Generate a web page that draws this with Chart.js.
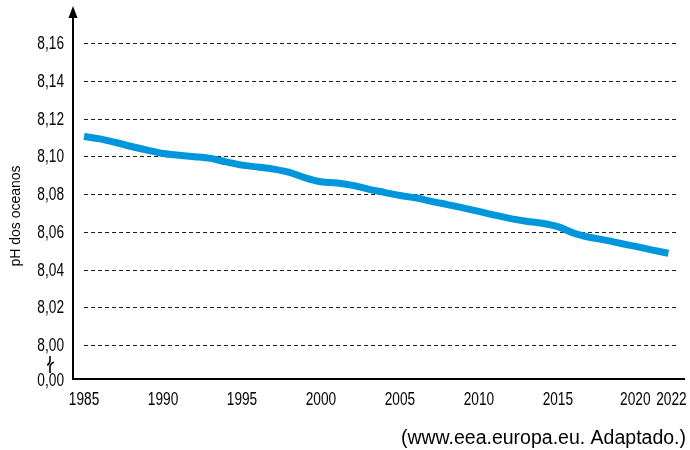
<!DOCTYPE html>
<html>
<head>
<meta charset="utf-8">
<script src="https://cdn.jsdelivr.net/npm/chart.js@4.4.1/dist/chart.umd.min.js"></script>
<style>
  body { margin: 0; background: #fff; }
  #wrap { width: 690px; height: 450px; }
</style>
</head>
<body>
<div id="wrap"><canvas id="phChart" width="690" height="450"></canvas></div>
<script>
// pH dos oceanos, 1985-2022
const years = [1985, 1986, 1987, 1988, 1989, 1990, 1991, 1992, 1993, 1994,
    1995, 1996, 1997, 1998, 1999, 2000, 2001, 2002, 2003, 2004,
    2005, 2006, 2007, 2008, 2009, 2010, 2011, 2012, 2013, 2014,
    2015, 2016, 2017, 2018, 2019, 2020, 2021, 2022];
const phValues = [8.1105, 8.1092, 8.1073, 8.1052, 8.1033, 8.1015, 8.1006, 8.0998, 8.0989, 8.0970,
    8.0953, 8.0943, 8.0932, 8.0915, 8.0886, 8.0865, 8.0859, 8.0846, 8.0826, 8.0809,
    8.0792, 8.0780, 8.0761, 8.0744, 8.0727, 8.0708, 8.0688, 8.0670, 8.0656, 8.0645,
    8.0627, 8.0593, 8.0571, 8.0556, 8.0538, 8.0521, 8.0503, 8.0486];
const xTicks = [1985, 1990, 1995, 2000, 2005, 2010, 2015, 2020, 2022];
const yTicks = [8.00, 8.02, 8.04, 8.06, 8.08, 8.10, 8.12, 8.14, 8.16];
const yBreakValue = 7.982; // shown as 0,00 below the axis break
const yTitle = 'pH dos oceanos';
const sourceText = '(www.eea.europa.eu. Adaptado.)';

const FONT = '"Liberation Sans", Arial, sans-serif';

// narrow-looking label (the original uses a condensed face)
function narrowText(ctx, text, x, y, align) {
    ctx.save();
    ctx.translate(x, y);
    ctx.scale(0.76, 1);
    ctx.textAlign = align;
    ctx.fillText(text, 0, 0);
    ctx.restore();
}

// axis arrow, dashed grid, tick labels, break mark and texts
const decorPlugin = {
    id: 'decor',
    beforeDatasetsDraw(chart) {
        const ctx = chart.ctx;
        const xs = chart.scales.x;
        const ys = chart.scales.y;
        const x0 = xs.getPixelForValue(1985);
        const x1 = xs.getPixelForValue(2022.55);
        ctx.save();
        ctx.strokeStyle = '#1a1a1a';
        ctx.lineWidth = 1;
        ctx.setLineDash([4, 3]);
        yTicks.forEach(v => {
            const y = Math.round(ys.getPixelForValue(v)) + 0.5;
            ctx.beginPath();
            ctx.moveTo(x0, y);
            ctx.lineTo(x1, y);
            ctx.stroke();
        });
        ctx.restore();
    },
    afterDraw(chart) {
        const ctx = chart.ctx;
        const area = chart.chartArea;
        const xs = chart.scales.x;
        const ys = chart.scales.y;
        ctx.save();
        // axes
        ctx.strokeStyle = '#000';
        ctx.lineWidth = 2;
        ctx.beginPath();
        ctx.moveTo(area.left, area.top);
        ctx.lineTo(area.left, area.bottom);
        ctx.lineTo(area.right, area.bottom);
        ctx.stroke();
        // arrow
        ctx.fillStyle = '#000';
        ctx.beginPath();
        ctx.moveTo(area.left, area.top - 11);
        ctx.lineTo(area.left - 4.5, area.top + 1);
        ctx.lineTo(area.left + 4.5, area.top + 1);
        ctx.closePath();
        ctx.fill();
        // tick labels (2020 and 2022 nudged apart like the original)
        ctx.font = '18px ' + FONT;
        ctx.textBaseline = 'middle';
        xs.ticks.forEach(t => {
            const nudge = t.value === 2022 ? 3 : (t.value === 2020 ? -1.5 : 0);
            narrowText(ctx, String(t.value), xs.getPixelForValue(t.value) + nudge, area.bottom + 21, 'center');
        });
        ys.ticks.forEach(t => {
            const label = t.value < 7.99 ? '0,00' : t.value.toFixed(2).replace('.', ',');
            const dy = t.value < 7.99 ? 2 : 1;
            narrowText(ctx, label, area.left - 9, ys.getPixelForValue(t.value) + dy, 'right');
        });
        // break mark between 8,00 and 0,00
        const bx = 50;
        const by = (ys.getPixelForValue(8.00) + area.bottom) / 2 + 2;
        ctx.lineWidth = 1.6;
        ctx.beginPath();
        ctx.moveTo(bx, by - 8);
        ctx.lineTo(bx, by - 3);
        ctx.quadraticCurveTo(bx - 1, by + 1, bx - 3, by + 1);
        ctx.moveTo(bx + 4, by - 2);
        ctx.quadraticCurveTo(bx + 1, by - 1, bx, by + 2);
        ctx.lineTo(bx, by + 9);
        ctx.stroke();
        // y title
        ctx.fillStyle = '#000';
        ctx.font = '14px ' + FONT;
        ctx.textAlign = 'center';
        ctx.textBaseline = 'middle';
        ctx.translate(16, 216);
        ctx.rotate(-Math.PI / 2);
        ctx.fillText(yTitle, 0, 0);
        ctx.restore();
        // source
        ctx.save();
        ctx.fillStyle = '#000';
        ctx.font = '19.5px ' + FONT;
        ctx.textAlign = 'right';
        ctx.textBaseline = 'middle';
        ctx.fillText(sourceText, 686, 439);
        ctx.restore();
    }
};

new Chart(document.getElementById('phChart'), {
    type: 'line',
    data: {
        datasets: [{
            data: years.map((yr, i) => ({ x: yr, y: phValues[i] })),
            borderColor: '#0096db',
            borderWidth: 7,
            pointRadius: 0,
            tension: 0.4,
            cubicInterpolationMode: 'monotone',
            borderCapStyle: 'butt',
            fill: false
        }]
    },
    options: {
        responsive: false,
        animation: false,
        layout: { padding: { top: 17, right: 5, left: 0, bottom: 0 } },
        plugins: {
            legend: { display: false },
            tooltip: { enabled: false }
        },
        scales: {
            x: {
                type: 'linear',
                min: 1984.3,
                max: 2023.05,
                afterBuildTicks: axis => { axis.ticks = xTicks.map(v => ({ value: v })); },
                afterFit: axis => { axis.height = 71; },
                grid: { display: false, drawTicks: false },
                border: { display: false },
                ticks: { display: false }
            },
            y: {
                type: 'linear',
                min: yBreakValue,
                max: 8.1738,
                afterBuildTicks: axis => {
                    axis.ticks = [yBreakValue].concat(yTicks).map(v => ({ value: v }));
                },
                afterFit: axis => { axis.width = 73; },
                grid: { display: false, drawTicks: false },
                border: { display: false },
                ticks: { display: false }
            }
        }
    },
    plugins: [decorPlugin]
});
</script>
</body>
</html>
